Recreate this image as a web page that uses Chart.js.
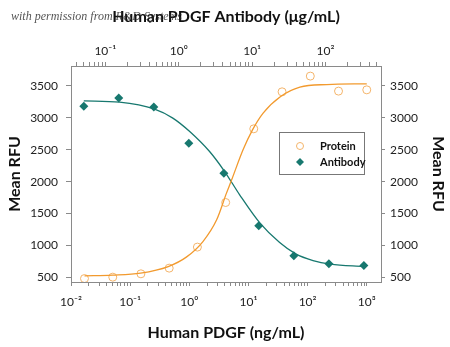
<!DOCTYPE html>
<html>
<head>
<meta charset="utf-8">
<script src="https://cdn.jsdelivr.net/npm/chart.js@4/dist/chart.umd.min.js"></script>
<style>
  html, body { margin: 0; padding: 0; background: #fff; }
  #wrap { width: 450px; height: 347px; position: relative; }
</style>
</head>
<body>
<div id="wrap"><canvas id="graficoPdgf"></canvas></div>
<script>
// measured points
const proteinX = [0.0169, 0.0508, 0.152, 0.457, 1.37, 4.12, 12.3, 37.0, 111, 333, 1000];   // ng/mL
const proteinY = [484, 506, 558, 647, 976, 1674, 2827, 3406, 3652, 3417, 3437];
const antibodyX = [0.0508, 0.152, 0.457, 1.37, 4.12, 12.3, 37.0, 111, 333];              // ug/mL (top axis)
const antibodyY = [3182, 3308, 3167, 2603, 2131, 1309, 840, 714, 688];

// fitted curves
const proteinFitX = [0.0169, 0.05, 0.15, 0.44, 0.89, 1.7, 2.9, 4.25, 5.2, 8.1, 11.7, 17.7, 35, 74, 210, 1000];
const proteinFitY = [527, 538, 569, 672, 819, 1063, 1403, 1821, 2029, 2499, 2811, 3073, 3333, 3480, 3520, 3531];
const antibodyFitX = [0.0508, 0.156, 0.468, 0.83, 1.41, 2.63, 4.22, 6.76, 12.8, 23.7, 39.2, 67.6, 117, 333];
const antibodyFitY = [3265, 3245, 3135, 2995, 2785, 2472, 2159, 1794, 1351, 1048, 871, 766, 710, 672];

// axis labels
const bottomTicks = [0.01, 0.1, 1, 10, 100, 1000];
const topTicks = [0.1, 1, 10, 100];
const yTicks = [500, 1000, 1500, 2000, 2500, 3000, 3500];

const orange = "#f29a2e";
const teal = "#17786f";
const axisGray = "#8a8a8a";
const narrow = "Lato, 'Liberation Sans', sans-serif";

const pts = (xs, ys) => xs.map((x, i) => ({ x: x, y: ys[i] }));

const sup = { "-": "\u207B", "0": "\u2070", "1": "\u00B9", "2": "\u00B2", "3": "\u00B3" };
function powLabel(v, list) {
    if (!list.some(t => Math.abs(t - v) / t < 1e-6)) return "";
    const e = String(Math.round(Math.log10(v)));
    return "10" + e.split("").map(c => sup[c]).join("");
}

function logTicks(scale) {
    const out = [];
    const lo = Math.floor(Math.log10(scale.min));
    const hi = Math.ceil(Math.log10(scale.max));
    for (let d = lo; d <= hi; d++) {
        for (let m = 1; m <= 9; m++) {
            const v = m * Math.pow(10, d);
            if (v >= scale.min * 0.999 && v <= scale.max * 1.001) out.push({ value: v, major: m === 1 });
        }
    }
    scale.ticks = out;
}

const legendBox = {
    id: "legendBox",
    afterDatasetsDraw(chart) {
        const c = chart.ctx;
        c.save();
        c.strokeStyle = "#777";
        c.lineWidth = 1;
        c.strokeRect(279.5, 132.5, 85, 42);
        c.font = "bold 11px " + narrow;
        c.fillStyle = "#111";
        c.textBaseline = "middle";
        c.fillText("Protein", 320, 146);
        c.fillText("Antibody", 320, 162);
        c.strokeStyle = "#f4b46a";
        c.beginPath();
        c.arc(300, 146, 3.5, 0, Math.PI * 2);
        c.stroke();
        c.fillStyle = teal;
        c.beginPath();
        c.moveTo(300, 158); c.lineTo(304, 162); c.lineTo(300, 166); c.lineTo(296, 162);
        c.closePath();
        c.fill();
        c.restore();
    }
};

const watermark = {
    id: "watermark",
    afterDraw(chart) {
        const c = chart.ctx;
        c.save();
        c.font = "italic 12px 'Liberation Serif', 'DejaVu Serif', serif";
        c.fillStyle = "rgba(40,40,40,0.8)";
        c.textBaseline = "middle";
        c.fillText("with permission from R&D Systems", 11, 17);
        c.restore();
    }
};

const tickFont = { family: narrow, size: 12 };
const titleFont = { family: narrow, size: 16, weight: "bold" };

new Chart(document.getElementById("graficoPdgf"), {
    type: "scatter",
    data: {
        datasets: [
            {
                label: "Protein fit",
                data: pts(proteinFitX, proteinFitY),
                xAxisID: "x",
                showLine: true,
                borderColor: orange,
                borderWidth: 1.3,
                pointRadius: 0,
                cubicInterpolationMode: "monotone"
            },
            {
                label: "Antibody fit",
                data: pts(antibodyFitX, antibodyFitY),
                xAxisID: "x2",
                showLine: true,
                borderColor: teal,
                borderWidth: 1.3,
                pointRadius: 0,
                cubicInterpolationMode: "monotone"
            },
            {
                label: "Protein",
                data: pts(proteinX, proteinY),
                xAxisID: "x",
                pointStyle: "circle",
                pointRadius: 4,
                pointBorderWidth: 1,
                pointBorderColor: "#f4b46a",
                pointBackgroundColor: "rgba(255,255,255,0)"
            },
            {
                label: "Antibody",
                data: pts(antibodyX, antibodyY),
                xAxisID: "x2",
                pointStyle: "rectRot",
                pointRadius: 4.5,
                pointBorderWidth: 0,
                pointBackgroundColor: teal
            }
        ]
    },
    options: {
        responsive: true,
        maintainAspectRatio: false,
        animation: false,
        layout: { padding: 0 },
        plugins: {
            legend: { display: false },
            tooltip: { enabled: false }
        },
        scales: {
            x: {
                type: "logarithmic",
                position: "bottom",
                min: 0.01,
                max: 1740,
                afterBuildTicks: logTicks,
                afterFit: s => { s.height = 65; },
                ticks: {
                    autoSkip: false,
                    maxRotation: 0,
                    color: "#222",
                    font: tickFont,
                    padding: 9,
                    callback: v => powLabel(v, bottomTicks)
                },
                grid: { drawOnChartArea: false, color: axisGray, tickLength: 4 },
                border: { color: axisGray },
                title: { display: true, text: "Human PDGF (ng/mL)", color: "#111", font: titleFont, padding: { top: 0, bottom: 5 } }
            },
            x2: {
                type: "logarithmic",
                position: "top",
                min: 0.034,
                max: 570,
                afterBuildTicks: logTicks,
                afterFit: s => { s.height = 66; },
                ticks: {
                    autoSkip: false,
                    maxRotation: 0,
                    color: "#222",
                    font: tickFont,
                    padding: 4,
                    callback: v => powLabel(v, topTicks)
                },
                grid: { drawOnChartArea: false, color: axisGray, tickLength: 4 },
                border: { color: axisGray },
                title: { display: true, text: "Human PDGF Antibody (\u03BCg/mL)", color: "#111", font: titleFont, padding: { top: 7, bottom: 0 } }
            },
            y: {
                position: "left",
                min: 430,
                max: 3810,
                afterBuildTicks: s => { s.ticks = yTicks.map(v => ({ value: v })); },
                afterFit: s => { s.width = 71; },
                ticks: { color: "#222", font: tickFont, padding: 8, callback: v => String(v) },
                grid: { drawOnChartArea: false, color: axisGray, tickLength: 5 },
                border: { color: axisGray },
                title: { display: true, text: "Mean RFU", color: "#111", font: titleFont, padding: { top: 5, bottom: 0 } }
            },
            y2: {
                position: "right",
                display: true,
                min: 430,
                max: 3810,
                afterBuildTicks: s => { s.ticks = yTicks.map(v => ({ value: v })); },
                afterFit: s => { s.width = 69; },
                ticks: { color: "#222", font: tickFont, padding: 5, callback: v => String(v) },
                grid: { drawOnChartArea: false, color: axisGray, tickLength: 4 },
                border: { color: axisGray },
                title: { display: true, text: "Mean RFU", color: "#111", font: titleFont, padding: { top: 2, bottom: 0 } }
            }
        }
    },
    plugins: [legendBox, watermark]
});
</script>
</body>
</html>
